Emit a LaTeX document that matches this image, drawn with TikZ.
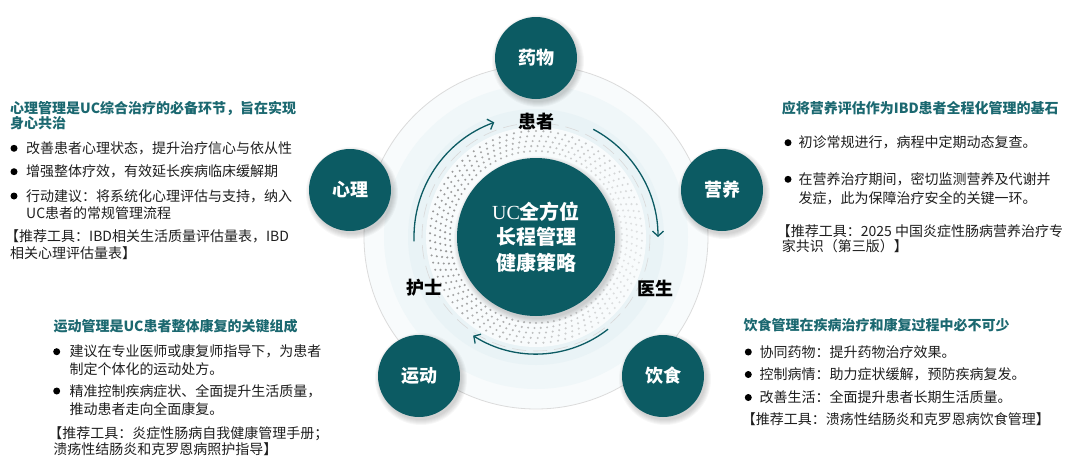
\documentclass[tikz,border=0pt]{standalone}
\usepackage{fontspec}
\setmainfont{Noto Sans CJK SC}
\newfontfamily\ucserif{Liberation Serif}
\usetikzlibrary{positioning,arrows.meta}
\definecolor{ucteal}{RGB}{12,91,99}
\definecolor{headteal}{RGB}{27,104,112}
\definecolor{bodygray}{RGB}{30,30,30}
\definecolor{ringpale}{RGB}{248,251,252}
\definecolor{ringblue}{RGB}{240,247,249}
\definecolor{ringdeep}{RGB}{233,243,246}
\tikzset{
  hub/.style={circle,fill=ucteal,minimum size=158pt,inner sep=0pt,text=white,align=center,font=\bfseries\fontsize{20}{25.5}\selectfont},
  sat/.style={circle,fill=ucteal,minimum size=82pt,inner sep=0pt,text=white,font=\bfseries\fontsize{18}{20}\selectfont},
  role/.style={inner sep=0pt,text=black,font=\bfseries\fontsize{18}{20}\selectfont},
  flow/.style={ucteal,line width=1.3pt,-{Straight Barb[length=5pt,width=11pt,line width=1.3pt]}},
  hd/.style={anchor=base west,inner sep=0pt,align=left,text=headteal,font=\bfseries\fontsize{14}{15}\selectfont},
  bt/.style={anchor=base west,inner sep=0pt,align=left,text=bodygray,font=\fontsize{14}{17.5}\selectfont},
  blt/.style={circle,fill=black,inner sep=0pt,minimum size=7pt},
  shd/.style={fill=black,opacity=0.03}
}

\begin{document}
\begin{tikzpicture}[x=1pt,y=-1pt]
  \useasboundingbox (0,0) rectangle (1080,474);
  \coordinate (o) at (536,237);
  % rings round the hub
  \fill[ringpale] (o) circle[radius=172]; \draw[gray!28,line width=0.8pt] (o) circle[radius=172];
  \fill[ringblue] (o) circle[radius=152]; \fill[ringdeep] (o) circle[radius=128];
  \fill[white!50!ringblue] (o) circle[radius=110];
  \foreach \r in {86,91,96,101,106}{
    \foreach \a in {0,4,...,356}{
      \pgfmathsetmacro{\op}{0.2+0.6*(1+sin(\a))/2}
      \fill[gray,opacity=\op] (o) ++(\a+\r:\r) circle[radius=1.15];
    }
  }
  \draw[gray!30,line width=0.6pt,dash pattern=on 14pt off 7pt] (o) circle[radius=114];
  % shadows
  \foreach \p in {(536,58),(722,190),(663,376),(419,376),(350,190)}{
    \foreach \k in {1,...,6} \fill[shd] \p ++(2,3) circle[radius=40+\k];
  }
  \foreach \k in {1,...,6} \fill[shd] (o) ++(2,3) circle[radius=78+\k];

  \node[hub] (hub) at (o) {{\ucserif\mdseries UC}全方位\\长程管理\\健康策略};
  \node[sat] (yaowu) at (536,58) {药物};
  \node[sat] (yingyang) at (722,190) {营养};
  \node[sat] (yinshi) at (663,376) {饮食};
  \node[sat] (yundong) at (419,376) {运动};
  \node[sat] (xinli) at (350,190) {心理};

  \node[role] (huanzhe) at (536,122) {患者};
  \node[role] (yisheng) at (655,288) {医生};
  \node[role] (hushi) at (424,288) {护士};

  \path (o) ++(-182:122) coordinate (f1s) (o) ++(-62:122) coordinate (f2s) (o) ++(52:117) coordinate (f3s);
  \draw[flow] (f1s) arc[start angle=-182,end angle=-110,radius=122];
  \draw[flow] (f2s) arc[start angle=-62,end angle=0,radius=122];
  \draw[flow] (f3s) arc[start angle=52,end angle=122.5,radius=117];

  % 心理
  \node[hd] (xl-hd) at (10,128.5) {心理管理是UC综合治疗的必备环节，旨在实现\\身心共治};
  \node[blt] (xl-d1) at (14,148.3) {}; \node[bt] (xl-b1) at (26,153.3) {改善患者心理状态，提升治疗信心与依从性};
  \node[blt] (xl-d2) at (14,171.7) {}; \node[bt] (xl-b2) at (26,176.7) {增强整体疗效，有效延长疾病临床缓解期};
  \node[blt] (xl-d3) at (14,196) {}; \node[bt] (xl-b3) at (26,218.5) {行动建议：将系统化心理评估与支持，纳入\\UC患者的常规管理流程};
  \node[bt] (xl-tool) at (5,258.3) {【推荐工具：IBD相关生活质量评估量表，IBD\\[-1pt]\hspace*{5pt}相关心理评估量表】};

  % 营养
  \node[hd] (yy-hd) at (781.7,113.3) {应将营养评估作为IBD患者全程化管理的基石};
  \node[blt] (yy-d1) at (788,142.7) {}; \node[bt] (yy-b1) at (798.3,147.7) {初诊常规进行，病程中定期动态复查。};
  \node[blt] (yy-d2) at (788,179.3) {}; \node[bt] (yy-b2) at (798.3,203.3) {在营养治疗期间，密切监测营养及代谢并\\[1.5pt]发症，此为保障治疗安全的关键一环。};
  \node[bt] (yy-tool) at (776.7,251.7) {【推荐工具：2025 中国炎症性肠病营养治疗专\\[-2pt]\hspace*{5pt}家共识（第三版）】};

  % 运动
  \node[hd] (yd-hd) at (53.3,331.7) {运动管理是UC患者整体康复的关键组成};
  \node[blt] (yd-d1) at (56.7,351.7) {}; \node[bt] (yd-b1) at (69.3,374.3) {建议在专业医师或康复师指导下，为患者\\制定个体化的运动处方。};
  \node[blt] (yd-d2) at (56.7,391) {}; \node[bt] (yd-b2) at (69.3,414) {精准控制疾病症状、全面提升生活质量，\\推动患者走向全面康复。};
  \node[bt] (yd-tool) at (48.3,454.3) {【推荐工具：炎症性肠病自我健康管理手册；\\[-1.5pt]\hspace*{5pt}溃疡性结肠炎和克罗恩病照护指导】};

  % 饮食
  \node[hd] (ys-hd) at (743.3,330) {饮食管理在疾病治疗和康复过程中必不可少};
  \node[blt] (ys-d1) at (748.3,352) {}; \node[bt] (ys-b1) at (759.3,357) {协同药物：提升药物治疗效果。};
  \node[blt] (ys-d2) at (748.3,374.5) {}; \node[bt] (ys-b2) at (759.3,379.5) {控制病情：助力症状缓解，预防疾病复发。};
  \node[blt] (ys-d3) at (748.3,397.5) {}; \node[bt] (ys-b3) at (759.3,402.5) {改善生活：全面提升患者长期生活质量。};
  \node[bt] (ys-tool) at (741.7,424) {【推荐工具：溃疡性结肠炎和克罗恩病饮食管理】};
\end{tikzpicture}
\end{document}
